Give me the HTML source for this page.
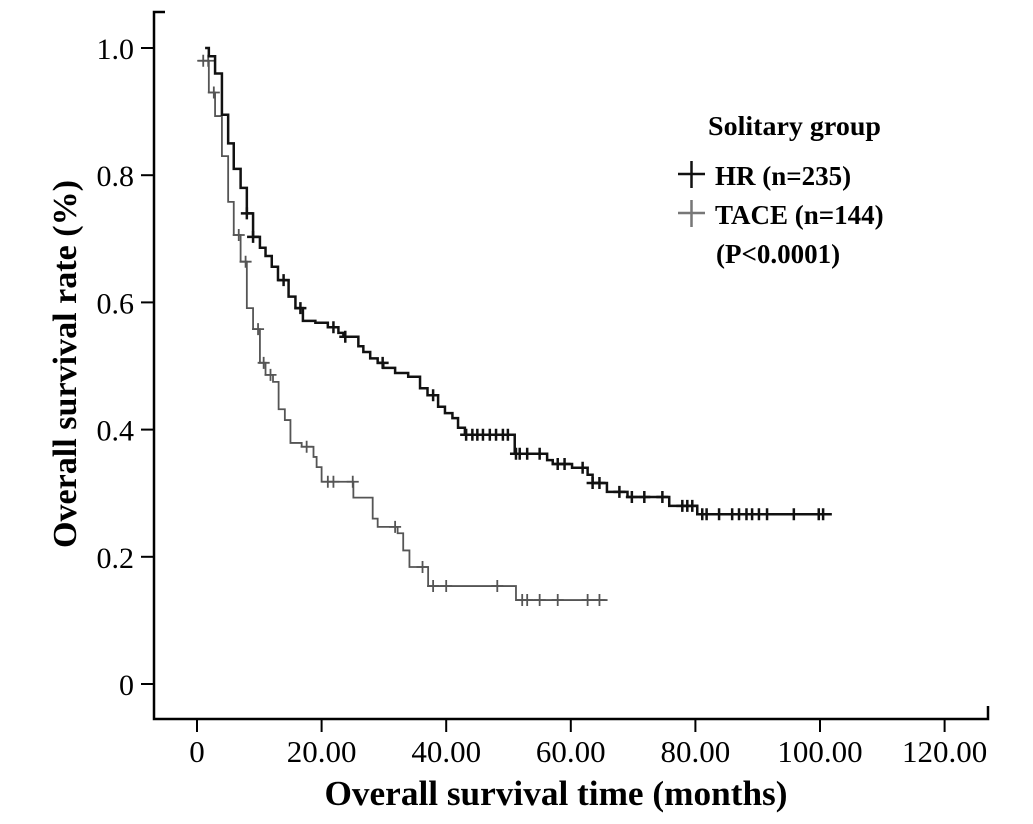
<!DOCTYPE html>
<html><head><meta charset="utf-8"><style>
html,body{margin:0;padding:0;background:#fff;}
svg{display:block;font-family:"Liberation Serif",serif;}
</style></head><body>
<svg id="chart" width="1033" height="824" viewBox="0 0 1033 824">
<g id="axes"></g>
<g id="series"></g>
<g>
<text x="708" y="135" font-size="27" font-weight="bold" textLength="173" lengthAdjust="spacingAndGlyphs">Solitary group</text>
<g>
<path d="M678 174 H705 M691.5 161 V188" stroke="#111" stroke-width="2.5"/>
<text x="715" y="185" font-size="27" font-weight="bold">HR (n=235)</text>
</g>
<g>
<path d="M678 213 H705 M691.5 200 V227" stroke="#777" stroke-width="2.5"/>
<text x="715" y="224" font-size="27" font-weight="bold">TACE (n=144)</text>
</g>
<text x="716" y="263" font-size="27" font-weight="bold">(P&lt;0.0001)</text>
</g>
<text x="556" y="805" font-size="35" font-weight="bold" text-anchor="middle" textLength="463" lengthAdjust="spacingAndGlyphs">Overall survival time (months)</text>
<text transform="translate(76,364) rotate(-90)" font-size="34" font-weight="bold" text-anchor="middle" textLength="368" lengthAdjust="spacingAndGlyphs">Overall survival rate (%)</text>
</svg>
<script>
const xTicks = [0, 20, 40, 60, 80, 100, 120];
const xTickLabels = ["0", "20.00", "40.00", "60.00", "80.00", "100.00", "120.00"];
const yTicks = [0, 0.2, 0.4, 0.6, 0.8, 1.0];
const yTickLabels = ["0", "0.2", "0.4", "0.6", "0.8", "1.0"];

const hrTimes = [1.3,1.9,2.9,4.0,5.0,5.9,7.0,8.0,9.0,10.1,11.0,12.0,13.0,14.7,15.8,17.0,19.0,21.0,22.7,23.5,25.9,26.7,27.8,29.0,29.9,31.8,33.9,35.8,37.0,38.7,39.8,41.0,41.9,43.0,51.0,56.2,57.1,60.2,62.7,63.5,65.8,69.1,75.8,80.3];
const hrSurv = [1.0,0.987,0.96,0.895,0.85,0.81,0.78,0.74,0.703,0.686,0.673,0.656,0.635,0.609,0.591,0.571,0.568,0.561,0.552,0.546,0.531,0.522,0.512,0.505,0.497,0.489,0.483,0.465,0.454,0.436,0.426,0.418,0.403,0.392,0.362,0.352,0.346,0.34,0.329,0.316,0.302,0.294,0.28,0.267];
const hrEnd = 101.9;
const hrCensor = [8.0,9.0,13.9,16.6,21.9,23.8,29.8,37.9,43.2,44.2,45.0,45.9,47.0,48.0,49.1,49.9,51.2,51.8,53.0,55.0,57.9,59.0,61.9,63.5,64.6,67.8,69.8,71.8,74.7,77.9,78.7,79.5,81.1,81.8,83.8,85.9,87.0,88.2,89.1,90.2,91.5,95.8,99.8,100.5];

const taceTimes = [0.2,1.9,2.9,4.0,5.0,5.9,7.0,8.0,9.0,10.1,11.0,12.2,13.1,14.1,15.0,16.8,18.7,19.2,20.0,25.1,28.2,29.0,32.2,33.1,34.1,37.1,51.2];
const taceSurv = [0.98,0.93,0.893,0.83,0.758,0.706,0.664,0.591,0.558,0.505,0.486,0.475,0.432,0.415,0.379,0.373,0.357,0.341,0.318,0.293,0.26,0.247,0.237,0.21,0.184,0.154,0.132];
const taceEnd = 65.9;
const taceCensor = [1.0,1.8,2.7,6.7,7.8,9.8,10.7,11.8,17.6,21.0,21.9,25.0,31.8,36.2,37.9,40.0,48.2,52.2,53.0,55.0,57.9,62.7,64.6];

const NS = "http://www.w3.org/2000/svg";
function xs(t){ return 197 + t * 6.23; }
function ys(s){ return 684 - s * 636; }
function mk(tag, attrs, parent){
  const e = document.createElementNS(NS, tag);
  for (const k in attrs) e.setAttribute(k, attrs[k]);
  parent.appendChild(e);
  return e;
}
const axes = document.getElementById('axes');
const series = document.getElementById('series');

const axisPath = mk('path', {d:'M165 12 H154 V719 H988 V706', fill:'none', stroke:'#000', 'stroke-width':2.5}, axes);



xTicks.forEach(function(v, i){
  const x = xs(v);
  const t = mk('line', {x1:x, x2:x, y1:719, y2:732, stroke:'#000', 'stroke-width':2}, axes);
  
  
  const l = mk('text', {x:x, y:762, 'font-size':31, 'text-anchor':'middle'}, axes);
  l.textContent = xTickLabels[i];
  
  
});
yTicks.forEach(function(v, i){
  const y = ys(v);
  const t = mk('line', {x1:141, x2:154, y1:y, y2:y, stroke:'#000', 'stroke-width':2}, axes);
  
  
  const l = mk('text', {x:134, y:y + 11, 'font-size':30, 'text-anchor':'end'}, axes);
  l.textContent = yTickLabels[i];
  
  
});

function survAt(times, surv, t){
  let s = surv[0];
  for (let i = 0; i < times.length; i++) if (times[i] <= t) s = surv[i];
  return s;
}
function drawCurve(times, surv, end, censor, color, width, name){
  let d = 'M' + xs(times[0]) + ' ' + ys(surv[0]);
  for (let i = 1; i < times.length; i++){
    d += ' H' + xs(times[i]) + ' V' + ys(surv[i]);
  }
  d += ' H' + xs(end);
  const p = mk('path', {d:d, fill:'none', stroke:color, 'stroke-width':width}, series);
  
  
  censor.forEach(function(t){
    const x = xs(t), y = ys(survAt(times, surv, t));
    const c = mk('path', {d:'M' + (x-6) + ' ' + y + ' H' + (x+6) + ' M' + x + ' ' + (y-6) + ' V' + (y+6), stroke:color, 'stroke-width':width}, series);
    
    
  });
}
drawCurve(taceTimes, taceSurv, taceEnd, taceCensor, '#555', 1.8, 'tace');
drawCurve(hrTimes, hrSurv, hrEnd, hrCensor, '#111', 2.5, 'hr');
</script>
</body></html>
